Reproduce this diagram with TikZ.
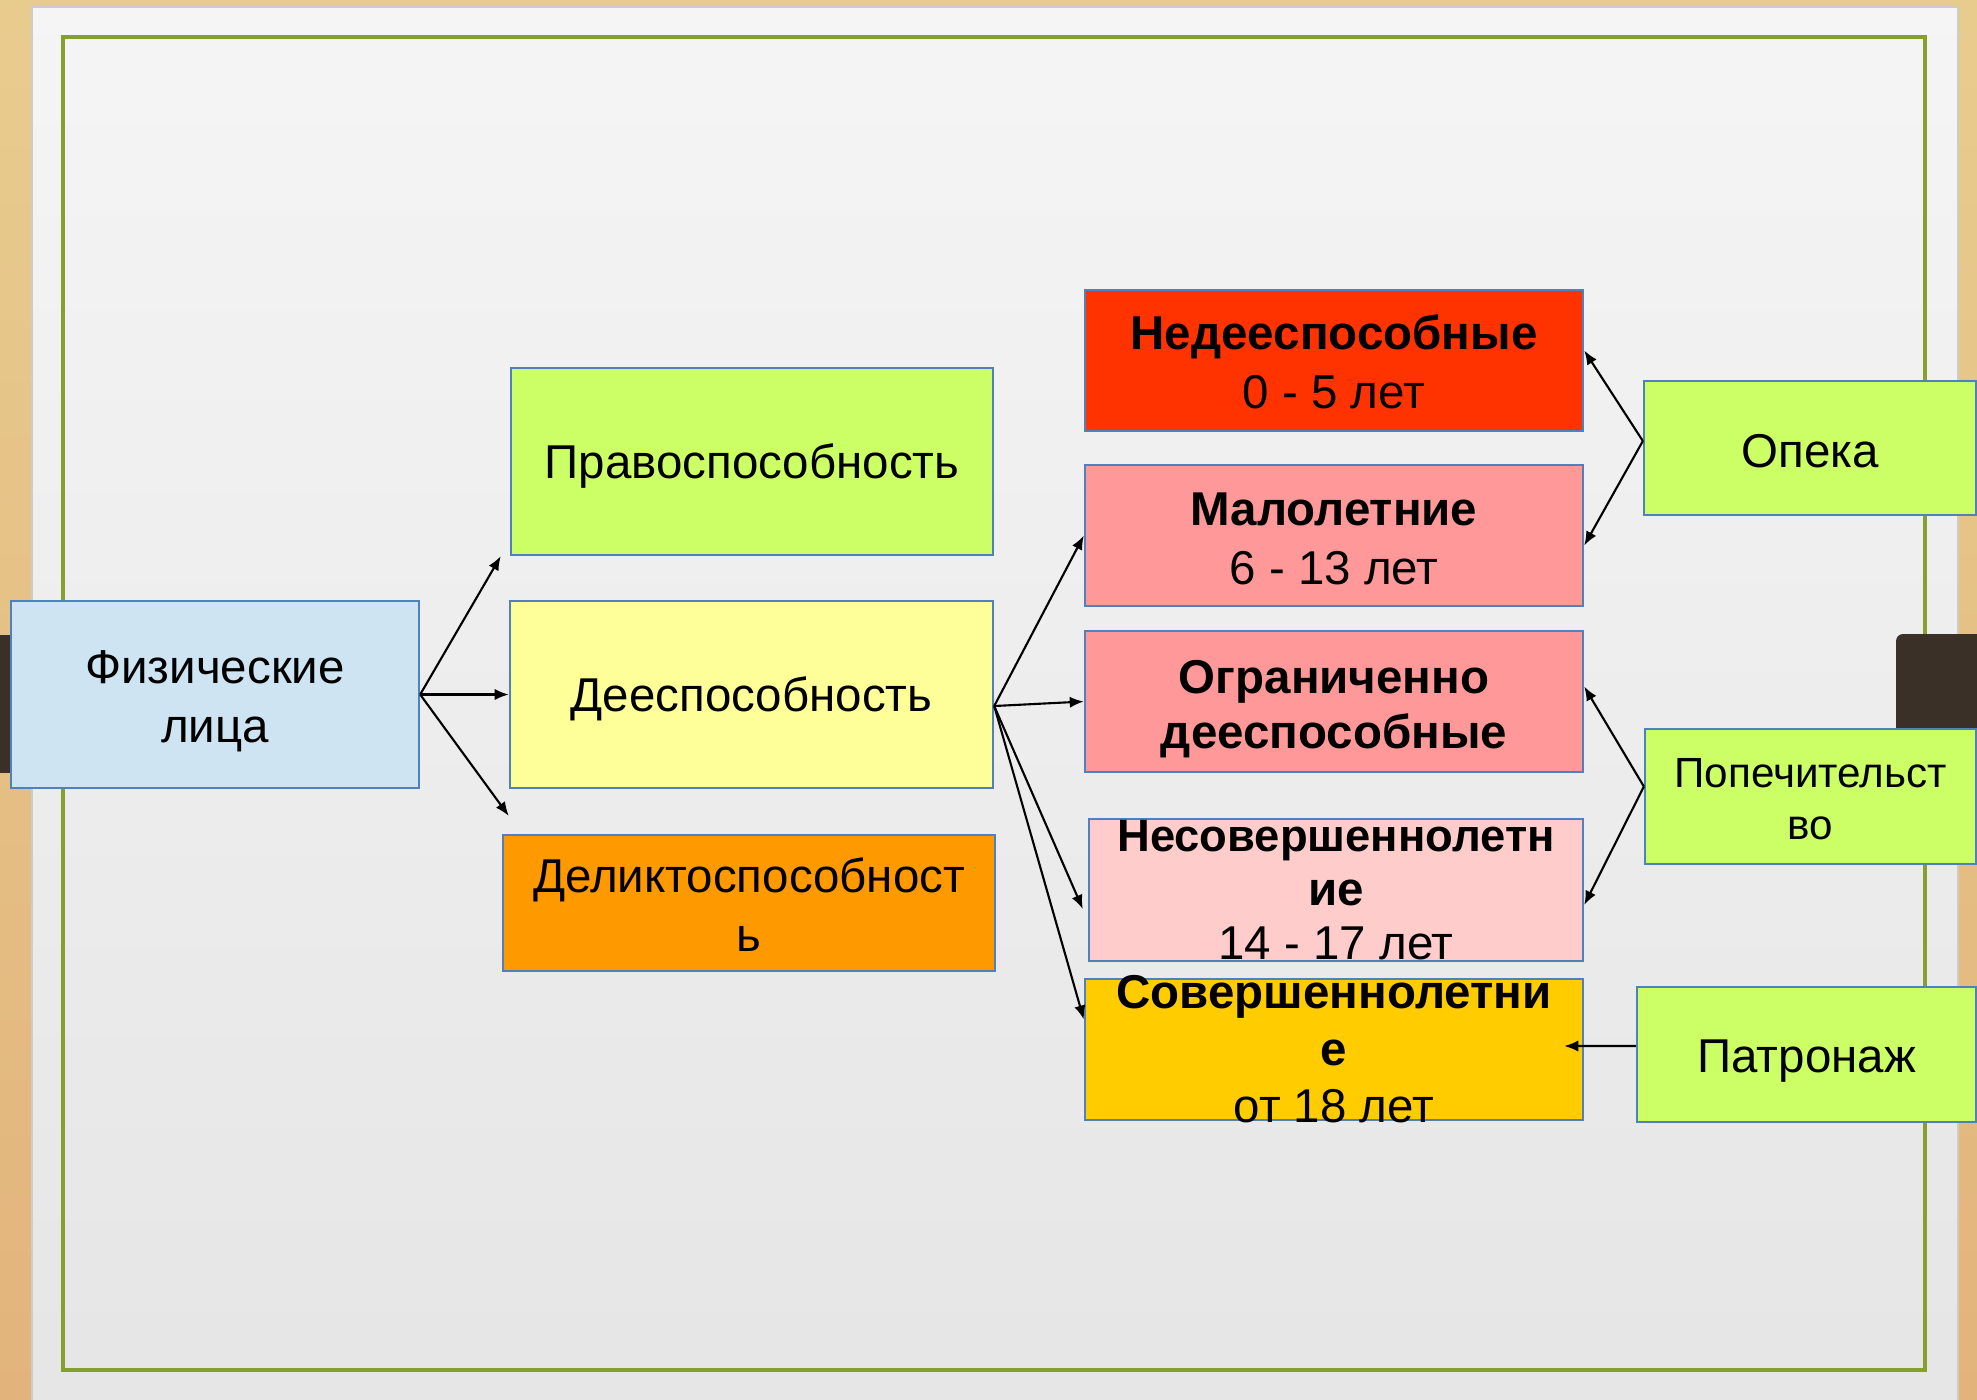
\documentclass[tikz,border=0pt]{standalone}
\usepackage{fontspec}
\setmainfont{Liberation Sans}
\usetikzlibrary{arrows.meta}
\definecolor{boxline}{RGB}{79,129,189}
\definecolor{fillBlue}{RGB}{207,228,243}
\definecolor{fillLime}{RGB}{204,255,102}
\definecolor{fillYellow}{RGB}{255,255,153}
\definecolor{fillOrange}{RGB}{255,153,0}
\definecolor{fillRed}{RGB}{255,51,0}
\definecolor{fillRose}{RGB}{255,153,153}
\definecolor{fillPink}{RGB}{255,204,204}
\definecolor{fillGold}{RGB}{255,204,0}
\definecolor{frameGreen}{RGB}{134,160,48}
\definecolor{woodTop}{RGB}{232,204,142}
\definecolor{woodBottom}{RGB}{226,180,124}
\definecolor{darkWood}{RGB}{58,48,40}
\newcommand{\boxfont}{\fontsize{13.5}{16.8}\selectfont}

\begin{document}
\begin{tikzpicture}[x=0.01cm,y=-0.01cm,
  box/.style={draw=boxline,line width=0.6pt,align=center,font=\boxfont,inner sep=0pt,text height=12.2pt},
  agebox/.style={box,minimum width=4.98cm,minimum height=1.41cm},
  sidebox/.style={box,fill=fillLime,minimum height=1.35cm},
  txt/.style={align=center,inner sep=0pt},
  arr/.style={line width=0.6pt,-{Latex[length=4pt,width=3.2pt]}}]
  \clip (0,0) rectangle (1977,1399);
  \useasboundingbox (0,0) rectangle (1977,1399);
  \shade[top color=woodTop,bottom color=woodBottom] (0,0) rectangle (1977,1399);
  \shade[top color=white!96!black,bottom color=white!90!black,draw=black!20]
    (32,7) rectangle (1958,1402);
  \draw[frameGreen,line width=1pt] (63,37) rectangle (1925,1370);
  \fill[darkWood] (0,635) rectangle (10,773);
  \fill[darkWood,rounded corners=2pt] (1896,634) rectangle (1990,780);

  \node[box,fill=fillBlue,minimum width=4.08cm,minimum height=1.87cm,text height=30.1pt] (fiz) at (215,694.5) {Физические\\лица};
  \node[box,fill=fillLime,minimum width=4.82cm,minimum height=1.87cm] (pravo) at (752,461.5) {Правоспособность};
  \node[box,fill=fillYellow,minimum width=4.83cm,minimum height=1.87cm] (dees) at (751.5,694.5) {Дееспособность};
  \node[box,fill=fillOrange,minimum width=4.92cm,minimum height=1.36cm,text height=27.5pt] (delikt) at (749,903) {Деликтоспособност\\ь};

  \node[agebox,fill=fillRed,text height=27.5pt] (nedees) at (1334,360.5) {\textbf{Недееспособные}\\0 - 5 лет};
  \node[agebox,fill=fillRose,text height=27.8pt] (malo) at (1334,535.5) {\textbf{Малолетние}\\6 - 13 лет};
  \node[agebox,fill=fillRose,font=\fontsize{13.5}{15.6}\selectfont\bfseries,text height=29.4pt] (ogran) at (1334,701.5) {Ограниченно\\дееспособные};
  \node[agebox,fill=fillPink,minimum width=4.94cm,minimum height=1.42cm] (nesov) at (1336,890) {};
  \node[txt,font=\fontsize{13.5}{15.4}\selectfont] (nesovtxt) at (nesov.center)
    {\textbf{\fontsize{12.9}{15.4}\selectfont Несовершеннолетн}\\\textbf{ие}\\14 - 17 лет};
  \node[agebox,fill=fillGold] (sover) at (1334,1049.5) {};
  \node[txt,font=\fontsize{13.5}{16.2}\selectfont] (sovertxt) at (sover.center)
    {\textbf{Совершеннолетни}\\\textbf{е}\\от 18 лет};

  \node[sidebox,minimum width=3.32cm,minimum height=1.34cm,text height=11.2pt] (opeka) at (1810,448) {Опека};
  \node[sidebox,minimum width=3.31cm,font=\fontsize{12}{14.8}\selectfont,text height=24.3pt] (popech) at (1810.5,796.5) {Попечительст\\во};
  \node[sidebox,minimum width=3.39cm,text height=13pt] (patron) at (1806.5,1054.5) {Патронаж};

  \draw[arr] (fiz.east) -- ([xshift=-0.09cm]pravo.south west);
  \draw[arr] (fiz.east) -- (dees.west);
  \draw[arr] (fiz.east) -- ([xshift=0.07cm,yshift=0.18cm]delikt.north west);

  \coordinate (dsrc) at ([yshift=-0.115cm]dees.east);
  \draw[arr] (dsrc) -- (malo.west);
  \draw[arr] (dsrc) -- (ogran.west);
  \draw[arr] (dsrc) -- ([xshift=-0.05cm,yshift=-0.19cm]nesov.west);
  \draw[arr] (dsrc) -- ([yshift=0.3cm]sover.west);

  \draw[arr] ([yshift=0.07cm]opeka.west) -- ([yshift=0.1cm]nedees.east);
  \draw[arr] ([yshift=0.07cm]opeka.west) -- ([yshift=-0.1cm]malo.east);
  \draw[arr] ([yshift=0.1cm]popech.west) -- ([yshift=0.15cm]ogran.east);
  \draw[arr] ([yshift=0.1cm]popech.west) -- ([yshift=-0.15cm]nesov.east);
  \draw[arr] ([yshift=0.085cm]patron.west) -- ([xshift=-0.2cm,yshift=0.035cm]sover.east);
\end{tikzpicture}
\end{document}
